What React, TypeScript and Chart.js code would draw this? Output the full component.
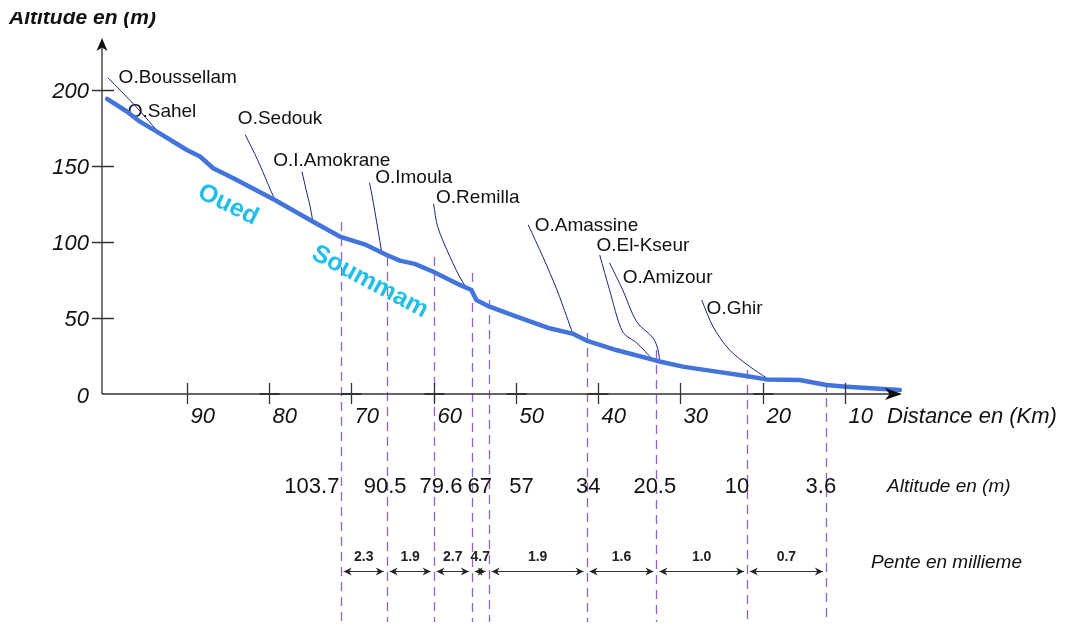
import React, { useEffect, useRef } from "react";
import { Chart, registerables } from "chart.js";
Chart.register(...registerables);

// Longitudinal profile of the Oued Soummam (distance in km, altitude in m)
const riverKm = [99.7, 97.3, 95.7, 93.7, 90.0, 88.4, 86.8, 84.4, 79.3, 74.7, 71.4, 68.2, 65.7, 64.1, 62.3, 60.1, 56.8, 55.4, 54.8, 53.2, 49.9, 45.9, 43.0, 41.4, 37.8, 32.9, 29.7, 25.6, 22.0, 19.5, 15.5, 12.2, 9.8, 3.3];
const riverAlt = [194, 185.7, 179, 172.6, 160.4, 156.1, 148.4, 142, 127.5, 113.4, 103.5, 98, 91.4, 87.7, 85.5, 80.5, 71.7, 68.4, 61.8, 57.4, 50.9, 43.2, 39.5, 35.1, 28.9, 21.9, 18, 14.7, 11.8, 9.6, 9.2, 5.9, 4.8, 2.6];

// Tributaries (thin lines joining the main river)
const boussellamKm = [99.6, 96.3, 93.5];
const boussellamAlt = [207.9, 189.5, 172.4];
const sedoukKm = [82.9, 81.4, 80.2, 79.3];
const sedoukAlt = [170.4, 153.9, 138.8, 127.6];
const amokraneKm = [76.0, 75.5, 75.0, 74.7];
const amokraneAlt = [146.1, 134.2, 123.0, 113.8];
const imoulaKm = [67.8, 67.5, 66.8, 66.3];
const imoulaAlt = [138.8, 130.9, 109.2, 92.8];
const remillaKm = [60.0, 59.5, 58.0, 56.4, 55.5];
const remillaAlt = [125, 109.9, 90.1, 73.0, 68.4];
const amassineKm = [48.5, 46.7, 45.0, 43.8, 43.1];
const amassineAlt = [111.2, 90.1, 68.4, 50.7, 40.1];
const elKseurKm = [39.8, 38.6, 37.0, 35.3, 33.3];
const elKseurAlt = [91.4, 68.4, 40.8, 33.6, 22.4];
const amizourKm = [38.6, 37.0, 35.3, 33.3, 32.7, 32.5];
const amizourAlt = [86.2, 68.4, 47.4, 36.8, 28.9, 21.1];
const ghirKm = [27.4, 26.0, 24.0, 21.5, 19.5];
const ghirAlt = [61.8, 44.1, 28.9, 17.8, 10.5];

// Tributary names and where their labels sit (data coordinates, label left / middle)
const tribNames = ["O.Boussellam", "O.Sahel", "O.Sedouk", "O.I.Amokrane", "O.Imoula", "O.Remilla", "O.Amassine", "O.El-Kseur", "O.Amizour", "O.Ghir"];
const tribLabelKm = [98.3, 97.2, 83.8, 79.5, 67.1, 59.7, 47.7, 40.2, 37.0, 26.8];
const tribLabelAlt = [207.9, 185.5, 180.9, 153.3, 142.1, 128.9, 110.5, 97.4, 76.3, 55.9];

// Axis ticks
const yTickValues = [50, 100, 150, 200];
const yTickLabels = ["50", "100", "150", "200"];
const xTickValues = [90, 80, 70, 60, 50, 40, 30, 20, 10];
const xTickLabels = ["90", "80", "70", "60", "50", "40", "30", "20", "10"];
const xTickCross = [false, true, true, true, true, true, false, true, false];

// Section boundaries (dashed lines)
const sectionKm = [71.3, 65.7, 60.0, 55.35, 53.3, 41.4, 32.9, 21.9, 12.3];
const sectionTopAlt = [113, 90, 90, 79.6, 61.8, 40.1, 28.9, 15.8, 7.2];

// Altitude row
const altitudeValues = ["103.7", "90.5", "79.6", "67", "57", "34", "20.5", "10", "3.6"];
const altitudeLabelKm = [74.8, 65.9, 59.1, 54.4, 49.3, 41.2, 33.1, 23.1, 12.9];

// Slope row (per mille)
const slopeValues = ["2.3", "1.9", "2.7", "4.7", "1.9", "1.6", "1.0", "0.7"];

// River name
const riverWords = ["Oued", "Soummam"];
const riverWordKm = [85.0, 67.75];
const riverWordAlt = [124.3, 73.7];
const riverWordAngle = [26, 28];

const FONT = '"Liberation Sans", Arial, Helvetica, sans-serif';

function zip(xs: number[], ys: number[]) {
  return xs.map((x, i) => ({ x, y: ys[i] }));
}

function arrowHead(ctx: CanvasRenderingContext2D, tx: number, ty: number, dir: string, len: number, half: number, notch: number) {
  ctx.beginPath();
  if (dir === "up") {
    ctx.moveTo(tx, ty);
    ctx.lineTo(tx - half, ty + len);
    ctx.lineTo(tx, ty + len - notch);
    ctx.lineTo(tx + half, ty + len);
  } else if (dir === "right") {
    ctx.moveTo(tx, ty);
    ctx.lineTo(tx - len, ty - half);
    ctx.lineTo(tx - len + notch, ty);
    ctx.lineTo(tx - len, ty + half);
  } else {
    ctx.moveTo(tx, ty);
    ctx.lineTo(tx + len, ty - half);
    ctx.lineTo(tx + len - notch, ty);
    ctx.lineTo(tx + len, ty + half);
  }
  ctx.closePath();
  ctx.fill();
}

const profilePlugin = {
  id: "profile",
  beforeDatasetsDraw(chart: any) {
    const { ctx, scales } = chart;
    const x = scales.x;
    const y = scales.y;
    ctx.save();
    ctx.strokeStyle = "#8b64cc";
    ctx.lineWidth = 1.3;
    ctx.setLineDash([9, 6]);
    sectionKm.forEach((k, i) => {
      const px = Math.round(x.getPixelForValue(k)) + 0.5;
      ctx.beginPath();
      ctx.moveTo(px, y.getPixelForValue(sectionTopAlt[i]));
      ctx.lineTo(px, 622);
      ctx.stroke();
    });
    ctx.restore();

    // tributary labels and river name
    ctx.save();
    ctx.fillStyle = "#111";
    ctx.font = `19px ${FONT}`;
    ctx.textAlign = "left";
    ctx.textBaseline = "middle";
    tribNames.forEach((n, i) => {
      ctx.fillText(n, x.getPixelForValue(tribLabelKm[i]), y.getPixelForValue(tribLabelAlt[i]));
    });
    ctx.fillStyle = "#1fbfea";
    ctx.font = `bold 25px ${FONT}`;
    ctx.textAlign = "center";
    riverWords.forEach((w, i) => {
      ctx.save();
      ctx.translate(x.getPixelForValue(riverWordKm[i]), y.getPixelForValue(riverWordAlt[i]));
      ctx.rotate((riverWordAngle[i] * Math.PI) / 180);
      ctx.fillText(w, 0, 0);
      ctx.restore();
    });
    ctx.restore();
  },
  afterDatasetsDraw(chart: any) {
    const { ctx, scales } = chart;
    const x = scales.x;
    const y = scales.y;
    const left = x.getPixelForValue(x.max) - 1;
    const y0 = y.getPixelForValue(0);
    ctx.save();

    // y axis
    ctx.strokeStyle = "#777";
    ctx.lineWidth = 2;
    ctx.beginPath();
    ctx.moveTo(left, y0);
    ctx.lineTo(left, 46);
    ctx.stroke();
    ctx.fillStyle = "#111";
    arrowHead(ctx, left, 38, "up", 13, 5.5, 3.5);

    // x axis
    const xEnd = 902;
    ctx.strokeStyle = "#333";
    ctx.lineWidth = 1.3;
    ctx.beginPath();
    ctx.moveTo(left, y0);
    ctx.lineTo(xEnd - 6, y0);
    ctx.stroke();
    arrowHead(ctx, xEnd, y0, "right", 17, 6, 4.5);

    // y ticks
    ctx.strokeStyle = "#333";
    ctx.lineWidth = 1.5;
    ctx.font = `italic 22px ${FONT}`;
    ctx.textAlign = "right";
    ctx.textBaseline = "middle";
    ctx.fillStyle = "#111";
    yTickValues.forEach((v, i) => {
      const py = Math.round(y.getPixelForValue(v)) + 0.5;
      ctx.beginPath();
      ctx.moveTo(left - 10, py);
      ctx.lineTo(left + 12, py);
      ctx.stroke();
      ctx.fillText(yTickLabels[i], left - 13, py + 1);
    });
    ctx.fillText("0", left - 13, y0 + 3);

    // x ticks
    ctx.textAlign = "left";
    xTickValues.forEach((v, i) => {
      const px = Math.round(x.getPixelForValue(v)) + 0.5;
      ctx.lineWidth = 1.3;
      ctx.beginPath();
      ctx.moveTo(px, y0 - 11);
      ctx.lineTo(px, y0 + 10);
      ctx.stroke();
      if (xTickCross[i]) {
        ctx.lineWidth = 2;
        ctx.beginPath();
        ctx.moveTo(px - 10, y0);
        ctx.lineTo(px + 10, y0);
        ctx.stroke();
      }
      ctx.fillText(xTickLabels[i], px + 3, y0 + 23);
    });

    // axis titles
    ctx.font = `italic 22px ${FONT}`;
    ctx.fillText("Distance en (Km)", 887, y0 + 23);
    ctx.save();
    ctx.beginPath();
    ctx.rect(0, 12, 320, 30);
    ctx.clip();
    ctx.font = `italic bold 21px ${FONT}`;
    ctx.textBaseline = "alphabetic";
    ctx.fillText("Altitude en (m)", 9, 24);
    ctx.restore();

    // altitude row
    ctx.font = `22px ${FONT}`;
    ctx.textAlign = "center";
    ctx.textBaseline = "middle";
    altitudeValues.forEach((t, i) => {
      ctx.fillText(t, x.getPixelForValue(altitudeLabelKm[i]), 487);
    });
    ctx.textAlign = "left";
    ctx.font = `italic 19px ${FONT}`;
    ctx.fillText("Altitude en (m)", 887, 487);
    ctx.fillText("Pente en millieme", 871, 563);

    // slope row
    const ay = 571.5;
    ctx.strokeStyle = "#333";
    ctx.fillStyle = "#222";
    ctx.lineWidth = 1;
    ctx.font = `bold 14px ${FONT}`;
    ctx.textAlign = "center";
    slopeValues.forEach((s, i) => {
      const a = x.getPixelForValue(sectionKm[i]) + 3;
      const b = x.getPixelForValue(sectionKm[i + 1]) - 3;
      ctx.beginPath();
      ctx.moveTo(a, ay);
      ctx.lineTo(b, ay);
      ctx.stroke();
      arrowHead(ctx, a, ay, "left", 8, 4, 2.5);
      arrowHead(ctx, b, ay, "right", 8, 4, 2.5);
      ctx.fillText(s, (a + b) / 2, ay - 14);
    });
    ctx.restore();
  },
};

export default function App() {
  const ref = useRef<HTMLCanvasElement>(null);
  useEffect(() => {
    const tribs = [
      zip(boussellamKm, boussellamAlt),
      zip(sedoukKm, sedoukAlt),
      zip(amokraneKm, amokraneAlt),
      zip(imoulaKm, imoulaAlt),
      zip(remillaKm, remillaAlt),
      zip(amassineKm, amassineAlt),
      zip(elKseurKm, elKseurAlt),
      zip(amizourKm, amizourAlt),
      zip(ghirKm, ghirAlt),
    ];
    const chart = new Chart(ref.current as HTMLCanvasElement, {
      type: "line",
      data: {
        datasets: [
          {
            label: "Oued Soummam",
            data: zip(riverKm, riverAlt),
            borderColor: "#4274dc",
            borderWidth: 4.5,
            pointRadius: 0,
            tension: 0,
            borderJoinStyle: "round",
            borderCapStyle: "round",
            fill: false,
          },
          ...tribs.map((d, i) => ({
            label: "trib" + i,
            data: d,
            borderColor: "#1c2580",
            borderWidth: 1,
            pointRadius: 0,
            tension: 0.3,
            fill: false,
          })),
        ],
      },
      options: {
        animation: false,
        responsive: false,
        events: [],
        layout: { padding: { left: 103, right: 145, top: 38, bottom: 234 } },
        plugins: { legend: { display: false }, tooltip: { enabled: false } },
        scales: {
          x: { type: "linear", min: 0, max: 100.2, reverse: true, display: false },
          y: { type: "linear", min: 0, max: 234, display: false },
        },
      } as any,
      plugins: [profilePlugin as any],
    });
    return () => chart.destroy();
  }, []);
  return (
    <div style={{ position: "fixed", left: 0, top: 0, width: 1072, height: 628, background: "#fff" }}>
      <canvas ref={ref} width={1072} height={628} style={{ display: "block", width: 1072, height: 628 }} />
    </div>
  );
}
